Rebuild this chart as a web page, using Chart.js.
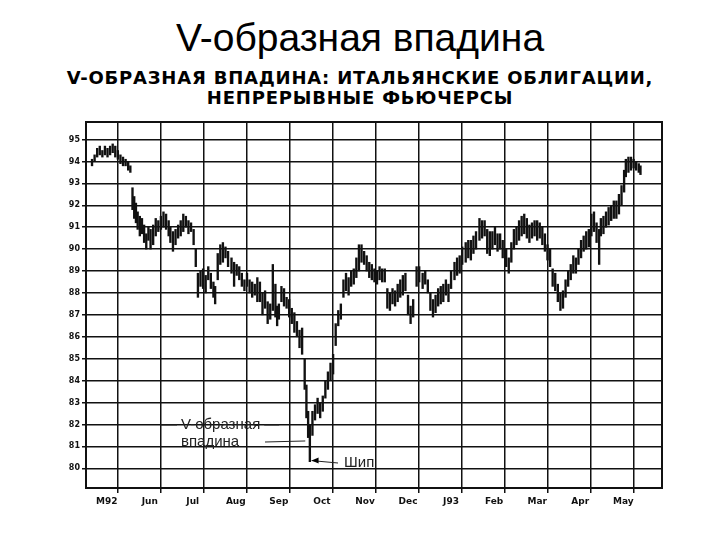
<!DOCTYPE html>
<html><head><meta charset="utf-8">
<script src="https://cdn.jsdelivr.net/npm/chart.js@4"></script>
<style>
body{margin:0;background:#fff;width:720px;height:540px;overflow:hidden;position:relative;font-family:"Liberation Sans",Arial,sans-serif}
#t{position:absolute;top:16px;left:0;width:720px;text-align:center;font-size:39px;padding-left:0}
#s{position:absolute;top:68px;left:0;width:720px;text-align:center;font:bold 18px "DejaVu Sans";letter-spacing:0.8px;line-height:20px}
#c{position:absolute;left:0;top:0}
</style></head><body>
<div id="t">V-образная впадина</div>
<div id="s">V-ОБРАЗНАЯ ВПАДИНА: ИТАЛЬЯНСКИЕ ОБЛИГАЦИИ,<br>НЕПРЕРЫВНЫЕ ФЬЮЧЕРСЫ</div>
<canvas id="c" width="720" height="540"></canvas>
<script>
// месяцы (подписи по центру месяца)
const monthLabels = ['M92','Jun','Jul','Aug','Sep','Oct','Nov','Dec','J93','Feb','Mar','Apr','May'];
const priceTicks = [80,81,82,83,84,85,86,87,88,89,90,91,92,93,94,95];

// позиции баров (в месяцах от 1 июня) и диапазоны low/high
const barX = [-0.84,-0.78,-0.72,-0.66,-0.6,-0.54,-0.48,-0.42,-0.36,-0.3,-0.24,-0.18,-0.12,-0.06,0.0,0.05,
  0.1,0.14,0.18,0.22,0.27,0.32,0.37,0.42,0.47,0.52,0.58,0.64,0.7,0.76,0.82,0.88,0.94,0.98,
  1.04,1.1,1.16,1.22,1.28,1.34,1.4,1.46,1.52,1.57,1.62,1.68,1.74,1.8,1.86,1.92,1.98,2.02,
  2.08,2.14,2.2,2.26,2.32,2.4,2.46,2.52,2.58,2.64,2.7,2.76,2.82,2.88,2.94,3.0,3.06,3.12,3.18,3.24,3.3,3.36,3.42,3.46,3.5,3.56,3.62,3.68,3.74,3.8,3.86,3.92,3.98,4.04,
  4.1,4.14,4.18,4.22,4.28,4.34,4.4,4.46,4.52,4.58,4.64,4.7,4.76,4.82,4.88,4.94,5.0,5.06,5.12,5.18,5.24,5.3,5.36,5.42,5.48,5.54,5.6,5.66,5.72,5.78,5.84,5.9,5.96,
  6.02,6.08,6.14,6.2,6.26,6.32,6.38,6.44,6.5,6.56,6.62,6.7,6.76,6.84,6.9,6.96,7.02,7.08,7.14,7.2,7.26,7.32,7.38,7.44,7.5,7.58,7.64,7.7,7.76,7.84,7.9,7.96,8.02,8.08,
  8.16,8.22,8.28,8.34,8.4,8.46,8.52,8.58,8.64,8.7,8.78,8.84,8.9,8.96,9.02,9.08,9.14,9.2,9.26,9.32,9.38,9.44,9.5,9.56,9.62,9.68,9.74,9.8,9.86,9.92,9.98,10.04,10.1,
  10.16,10.22,10.28,10.34,10.4,10.46,10.52,10.58,10.64,10.7,10.76,10.82,10.88,10.94,10.98,11.04,11.1,11.16,11.22,11.28,11.34,11.4,11.46,11.52,11.56,11.62,11.68,11.74,11.8,11.86,11.9];
const barLow = [93.8,94.0,94.2,94.3,94.2,94.3,94.2,94.3,94.4,94.2,94.1,93.9,93.8,93.8,93.6,93.5,
  91.8,91.4,91.2,90.9,90.6,90.7,90.3,90.0,90.4,90.0,90.2,90.6,90.8,90.9,91.0,90.9,90.6,90.3,
  89.9,90.2,90.5,90.6,90.8,91.0,90.7,90.8,90.2,89.2,87.8,88.3,88.2,88.0,88.6,88.2,87.8,87.5,
  88.6,89.3,89.4,89.6,89.2,88.9,88.3,88.8,88.6,88.3,88.1,88.3,88.0,87.8,87.9,87.6,87.6,87.0,87.3,86.6,86.8,87.2,86.9,86.5,86.8,87.6,87.4,87.3,86.9,86.6,86.2,86.0,85.5,85.2,
  83.6,82.3,81.4,80.3,81.5,82.2,82.5,82.3,82.6,83.2,83.6,84.0,84.3,85.6,86.5,86.8,87.8,88.1,87.9,88.3,88.4,88.7,89.0,89.4,89.3,89.0,88.7,88.6,88.5,88.4,88.6,88.5,88.5,
  87.3,87.2,87.5,87.4,87.6,87.8,87.9,88.1,87.0,86.6,86.9,88.3,88.5,88.2,88.4,88.0,87.2,86.9,87.1,87.4,87.5,87.6,87.9,87.6,88.2,88.6,88.8,88.9,89.3,89.4,89.6,89.5,89.8,90.0,
  90.4,90.5,90.6,89.8,89.7,90.0,90.2,89.9,90.0,89.6,89.2,88.9,89.4,90.0,90.2,90.4,90.6,90.7,90.5,90.3,90.5,90.6,90.4,90.5,90.2,89.9,89.5,89.2,88.3,88.1,87.6,87.2,87.3,
  87.8,88.3,88.6,88.9,88.9,89.3,89.6,89.9,90.0,90.1,90.6,90.8,90.3,89.3,90.6,90.7,91.0,91.1,91.3,91.4,91.4,91.6,92.0,92.6,93.3,93.5,93.6,93.7,93.6,93.5,93.4];
const barHigh = [94.1,94.3,94.6,94.7,94.5,94.7,94.6,94.7,94.8,94.7,94.5,94.3,94.2,94.1,94.0,93.8,
  92.8,92.4,92.1,91.7,91.5,91.4,91.1,90.7,91.0,90.9,91.1,91.4,91.3,91.5,91.7,91.6,91.3,91.0,
  90.8,90.9,91.1,91.3,91.6,91.5,91.3,91.2,90.9,90.0,88.9,89.0,89.1,88.8,89.2,88.9,88.5,88.3,
  89.8,90.2,90.3,90.1,89.9,89.6,89.4,89.3,89.2,88.9,88.6,88.9,88.6,88.5,88.4,88.7,88.5,88.0,88.1,87.6,87.5,89.3,88.4,87.4,87.5,88.3,88.2,87.8,87.7,87.3,87.1,86.7,86.3,86.4,
  85.0,83.8,82.6,82.0,82.6,82.9,83.2,83.0,83.3,84.0,84.4,84.8,85.2,86.6,87.2,87.5,88.6,88.9,88.7,89.0,89.1,89.6,90.2,90.2,89.9,89.7,89.4,89.3,89.1,89.0,89.2,89.1,89.1,
  88.2,88.0,88.2,88.1,88.4,88.6,88.8,88.9,87.9,87.4,87.7,89.2,89.2,88.9,89.0,88.6,88.0,87.7,87.9,88.2,88.3,88.4,88.6,88.4,89.0,89.4,89.6,89.7,90.1,90.3,90.4,90.4,90.6,90.8,
  91.4,91.3,91.3,90.9,90.8,90.8,91.0,90.7,90.7,90.4,90.0,89.6,90.3,90.9,91.0,91.3,91.5,91.6,91.4,91.1,91.2,91.3,91.3,91.2,91.0,90.7,90.2,90.0,89.1,88.9,88.4,88.0,88.1,
  88.6,89.0,89.3,89.7,89.6,90.0,90.4,90.6,90.8,90.9,91.6,91.7,91.2,90.9,91.4,91.5,91.7,91.9,92.0,92.2,92.2,92.5,92.9,93.6,94.1,94.2,94.2,94.1,94.0,93.9,93.8];

const bars = barX.map((x, i) => ({ x: x, y: [barLow[i], barHigh[i]] }));

const notes = {
  id: 'notes',
  afterDatasetsDraw(chart) {
    const { ctx, scales: { x, y } } = chart;
    ctx.save();
    ctx.font = '15px "Liberation Sans", Arial';
    ctx.fillStyle = '#222';
    ctx.textBaseline = 'middle';
    ctx.fillText('V-образная', 181, 425);
    ctx.fillText('впадина', 181, 442);
    ctx.fillText('Шип', 344, 463);
    ctx.strokeStyle = '#222';
    ctx.lineWidth = 1;
    const w = ctx.measureText('V-образная').width;
    // стрелка к впадине
    const vx = x.getPixelForValue(4.16), vy = y.getPixelForValue(81.2);
    ctx.beginPath();
    ctx.moveTo(160, 425); ctx.lineTo(177, 425);
    ctx.moveTo(185 + w, 425); ctx.lineTo(200 + w, 425);
    ctx.moveTo(265, 442); ctx.lineTo(vx - 2, vy - 1);
    ctx.stroke();
    // стрелка к шипу
    const sx = x.getPixelForValue(4.26), sy = y.getPixelForValue(80.35);
    ctx.beginPath();
    ctx.moveTo(338, 463); ctx.lineTo(sx, sy); ctx.stroke();
    ctx.beginPath();
    ctx.moveTo(sx, sy); ctx.lineTo(sx + 7, sy - 3); ctx.lineTo(sx + 7, sy + 3); ctx.closePath();
    ctx.fillStyle = '#000'; ctx.fill();
    ctx.restore();
  }
};

new Chart(document.getElementById('c'), {
  type: 'bar',
  data: { datasets: [{ data: bars, backgroundColor: '#111', barThickness: 1.7 }] },
  options: {
    responsive: false,
    animation: false,
    layout: { padding: { left: 58, top: 122, right: 58, bottom: 30 } },
    plugins: { legend: { display: false }, tooltip: { enabled: false } },
    scales: {
      x: {
        type: 'linear', min: -0.98, max: 12.4, offset: false,
        afterBuildTicks: s => {
          const t = [];
          for (let i = 0; i < monthLabels.length; i++) { t.push({ value: i - 0.5 }); t.push({ value: i }); }
          s.ticks = t;
        },
        afterFit: s => { s.height = 22; },
        grid: {
          color: c => (c.tick && Number.isInteger(c.tick.value)) ? '#111' : 'rgba(0,0,0,0)',
          lineWidth: 1.5, tickLength: 5
        },
        border: { color: '#111', width: 2 },
        ticks: {
          autoSkip: false, maxRotation: 0, color: '#111',
          font: { family: 'DejaVu Sans', size: 9, weight: 'bold' },
          callback: v => Number.isInteger(v) ? '' : monthLabels[Math.round(v + 0.5)]
        }
      },
      y: {
        min: 79.1, max: 95.8,
        afterBuildTicks: s => { s.ticks = priceTicks.map(v => ({ value: v })); },
        afterFit: s => { s.width = 28; },
        grid: { color: '#111', lineWidth: 1.5, tickLength: 4 },
        border: { color: '#111', width: 2 },
        ticks: { color: '#111', padding: 2, font: { family: 'DejaVu Sans', size: 8, weight: 'bold' } }
      }
    }
  },
  plugins: [notes, {
    id: 'frame',
    afterDraw(chart) {
      const { ctx, chartArea: a } = chart;
      ctx.save(); ctx.strokeStyle = '#111'; ctx.lineWidth = 2;
      ctx.strokeRect(a.left, a.top, a.right - a.left, a.bottom - a.top);
      ctx.restore();
    }
  }]
});
</script>
</body></html>
